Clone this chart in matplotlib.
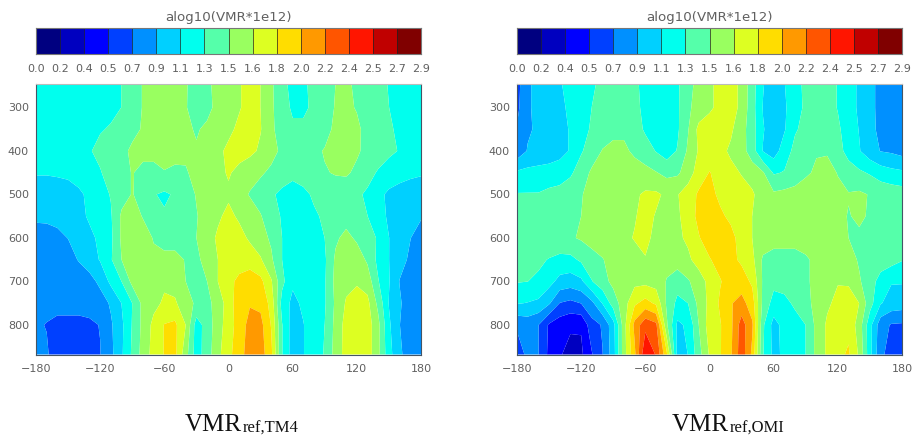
import numpy as np
import matplotlib
matplotlib.use("Agg")
import matplotlib.pyplot as plt

W, H = 916, 436

longitudes = list(range(-180, 181, 10))
pressure = [246, 300, 350, 400, 450, 500, 550, 600, 650, 700, 750, 800, 868]
bar_labels = ["0.0","0.2","0.4","0.5","0.7","0.9","1.1","1.3","1.5","1.6","1.8","2.0","2.2","2.4","2.5","2.7","2.9"]
bar_edges = [0, .181, .3625, .544, .725, .906, 1.0875, 1.269, 1.45, 1.631, 1.8125, 1.994, 2.175, 2.356, 2.5375, 2.719, 2.9]
bar_colors = ["#000080","#0000c0","#0000ff","#0040ff","#0090ff","#00d0ff","#00ffee","#55ffaa",
              "#99ff60","#ddff22","#ffdd00","#ff9900","#ff5500","#ff1500","#c00000","#800000"]
x_ticks = [-180, -120, -60, 0, 60, 120, 180]
y_ticks = [300, 400, 500, 600, 700, 800]

# log10(VMR*1e12) x 100, one row per pressure level, west to east
vmr_tm4 = [
 [118,118,118,118,118,120,122,124,127, 136,146,150,152,150,146,140,143,148, 155,162,168,163,148,132,122,125,130, 138,145,147,143,138,132,126,122,120, 118],
 [118,118,118,118,118,120,122,124,127, 136,146,150,152,150,146,138,142,148, 156,162,168,163,148,135,124,124,130, 138,146,148,144,138,132,127,122,120, 118],
 [118,118,118,118,120,123,126,128,135, 142,146,150,152,150,147,144,147,150, 160,166,170,164,148,138,130,130,134, 140,148,150,148,140,134,129,124,122, 120],
 [118,118,118,118,120,126,130,136,142, 147,150,152,152,150,147,146,150,160, 166,170,168,160,150,142,138,138,142, 146,152,155,147,141,136,130,126,122, 120],
 [110,110,111,112,115,118,126,132,138, 146,140,138,144,142,144,148,152,158, 165,158,150,147,142,138,134,136,140, 144,146,147,142,133,125,120,117,114, 112],
 [100,100,100,102,106,112,120,128,138, 146,138,128,124,129,138,146,150,158, 160,150,144,138,130,122,115,122,130, 134,138,136,130,124,114,105,100, 96,  92],
 [ 96, 96, 96, 98,104,111,118,125,148, 152,144,140,129,138,142,144,152,160, 168,160,152,146,136,125,116,116,124, 130,136,138,134,127,116,106,100, 96,  92],
 [ 78, 80, 86, 91, 98,105,112,123,148, 155,152,144,138,138,140,145,155,166, 172,170,160,152,142,127,118,116,118, 127,142,150,142,134,125,109,100, 91,  84],
 [ 76, 76, 78, 82, 92,100,110,125,145, 152,152,148,150,150,144,142,150,163, 172,176,174,165,148,127,118,116,116, 124,148,158,155,142,122,109, 96, 88,  82],
 [ 76, 76, 76, 76, 78, 84, 95,113,127, 150,155,158,160,155,145,136,145,163, 178,184,190,186,165,132,112,114,118, 125,150,158,160,155,128,110, 90, 78,  75],
 [ 76, 76, 77, 77, 77, 78, 82, 93,109, 127,150,158,166,166,150,143,140,152, 172,192,198,195,175,120,104,112,118, 125,148,165,175,168,140,108, 93, 80,  78],
 [ 74, 72, 69, 69, 69, 70, 73, 88,105, 128,150,168,182,185,163,118,135,155, 172,190,205,205,180,128,100,108,120, 127,150,170,178,172,150,112, 91, 78,  76],
 [ 78, 74, 66, 64, 64, 66, 72, 86,106, 130,152,170,182,186,152,118,136,158, 176,192,208,208,186,128,100,108,120, 128,152,170,178,172,150,115, 95, 78,  76],
]
vmr_omi = [
 [ 66, 88, 96,100,107,115,120,125,130, 136,138,130,122,118,118,124,140,150, 160,168,172,158,135,110, 98,108,122, 130,136,134,126,116,106, 95, 86, 82,  80],
 [ 68, 88, 96,100,105,112,118,127,134, 138,140,132,122,118,118,124,142,152, 160,168,172,158,134,108, 98,106,120, 130,138,134,126,116,106, 95, 86, 82,  80],
 [ 74, 88, 94, 98,104,110,118,130,136, 140,142,136,124,118,118,124,144,168, 172,174,166,152,135,110,100,107,125, 132,138,136,130,118,108, 96, 86, 80,  78],
 [ 78, 92, 96,100,104,110,125,136,146, 150,148,142,136,126,118,128,148,165, 172,168,160,152,136,108,100,118,132, 140,144,143,134,120,110, 98, 90, 88,  84],
 [112,114,115,115,116,124,136,148,152, 156,156,152,150,146,140,142,154,172, 182,175,168,162,154,147,125,128,134, 143,147,152,144,136,130,125,118,114, 112],
 [128,128,128,132,135,138,144,150,154, 156,158,160,166,166,160,162,172,184, 186,178,172,170,166,152,148,150,152, 152,152,152,150,146,148,144,140,138, 136],
 [136,136,136,138,140,142,145,150,153, 156,158,162,168,162,156,160,172,186, 190,184,178,170,163,158,156,156,156, 156,156,154,150,144,148,143,140,138, 136],
 [136,136,136,138,140,143,147,152,155, 157,160,164,168,158,156,160,166,180, 190,192,186,175,163,156,150,150,152, 155,156,155,152,145,142,140,138,136, 134],
 [133,133,130,126,122,122,130,138,144, 152,155,158,162,155,150,153,160,170, 180,188,186,178,168,142,140,140,138, 142,150,156,158,152,143,138,136,134, 128],
 [128,127,124,115,103,100,105,126,138, 150,156,158,158,155,144,135,143,155, 168,180,190,190,178,142,132,134,137, 142,150,156,162,160,147,135,120,110, 110],
 [110,108,105, 93, 72, 68, 73, 86,110, 135,155,178,188,178,142,122,127,150, 168,184,198,206,190,140,120,122,130, 140,150,160,168,174,163,134,110,102, 100],
 [ 76, 80, 73, 52, 44, 39, 38, 66, 74, 102,155,205,230,222,148,105,112,145, 172,180,195,226,202,130,102,115,120, 127,150,166,176,176,155,115, 80, 71,  70],
 [ 60, 78, 73, 50, 38, 30, 33, 53, 72, 100,155,195,253,234,185,102,109,138, 165,180,197,228,195,128,104,112,118, 127,150,166,176,184,160,115, 76, 66,  66],
]

INK = "#606060"
fig = plt.figure(figsize=(W / 100, H / 100), dpi=100)
plt.rcParams["font.family"] = "DejaVu Sans"


def px_axes(x0, x1, y_top, y_bot):
    return fig.add_axes([x0 / W, 1 - y_bot / H, (x1 - x0) / W, (y_bot - y_top) / H])


def panel(x0, values, name, vmr_x, sub_x):
    x1 = x0 + 385
    # colour bar
    cb = px_axes(x0, x1, 28, 54)
    cb.pcolormesh(bar_edges, [0, 1], np.array([bar_edges[:-1]]), cmap=matplotlib.colors.ListedColormap(bar_colors),
                  norm=matplotlib.colors.BoundaryNorm(bar_edges, 16))
    cb.vlines(bar_edges[1:-1], 0, 1, color="#222222", lw=0.5)
    cb.set_xlim(0, 2.9)
    cb.set_ylim(0, 1)
    cb.set_yticks([])
    cb.set_xticks(bar_edges, bar_labels)
    cb.tick_params(axis="x", length=0, pad=7, labelsize=8, labelcolor=INK)
    for s in cb.spines.values():
        s.set_color("#777777")
        s.set_linewidth(0.8)
    fig.text((x0 + x1) / 2 / W, 1 - 17 / H, "alog10(VMR*1e12)", ha="center", va="center", fontsize=9.6, color=INK)

    # contour panel
    ax = px_axes(x0, x1, 84, 354.5)
    ax.contourf(longitudes, pressure, np.array(values) / 100, levels=bar_edges, colors=bar_colors, antialiased=True)
    ax.set_xlim(-180, 180)
    ax.set_ylim(868, 246)
    ax.set_xticks(x_ticks, [str(v).replace("-", "\u2212") for v in x_ticks])
    ax.set_yticks(y_ticks)
    ax.tick_params(axis="x", length=0, pad=7, labelsize=8, labelcolor=INK)
    ax.tick_params(axis="y", length=0, pad=5, labelsize=8, labelcolor=INK)
    for side, s in ax.spines.items():
        s.set_color("#bbbbbb" if side == "top" else "#445566")
        s.set_linewidth(0.8)

    fig.text(vmr_x / W, 1 - 431 / H, "VMR", family="Liberation Serif", fontsize=18, color="#111111", va="baseline")
    fig.text(sub_x / W, 1 - 433 / H, name, family="Liberation Serif", fontsize=12, color="#111111", va="baseline")


panel(36, vmr_tm4, "ref,TM4", 185, 243)
panel(517, vmr_omi, "ref,OMI", 672, 730)

fig.savefig("out.png", dpi=100)
